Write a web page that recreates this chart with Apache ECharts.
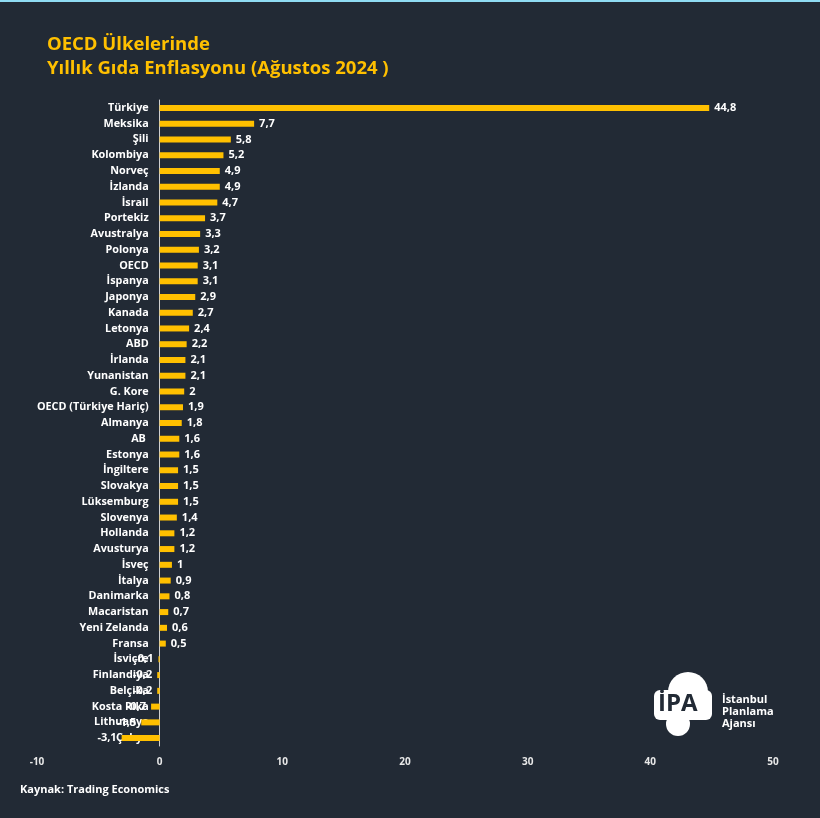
<!DOCTYPE html>
<html><head><meta charset="utf-8">
<script src="https://cdn.jsdelivr.net/npm/echarts@6/dist/echarts.min.js"></script>
<style>html,body{margin:0;padding:0;background:#222a35;}#c{width:820px;height:818px;}</style>
</head><body><div id="c"></div>
<script>
const categories = ["Türkiye","Meksika","Şili","Kolombiya","Norveç","İzlanda","İsrail","Portekiz","Avustralya","Polonya","OECD","İspanya","Japonya","Kanada","Letonya","ABD","İrlanda","Yunanistan","G. Kore","OECD (Türkiye Hariç)","Almanya","AB ","Estonya","İngiltere","Slovakya","Lüksemburg","Slovenya","Hollanda","Avusturya","İsveç","İtalya","Danimarka","Macaristan","Yeni Zelanda","Fransa","İsviçre","Finlandiya","Belçika","Kosta Rika","Lithuanya","Çekya"];
const values = [44.8,7.7,5.8,5.2,4.9,4.9,4.7,3.7,3.3,3.2,3.1,3.1,2.9,2.7,2.4,2.2,2.1,2.1,2,1.9,1.8,1.6,1.6,1.5,1.5,1.5,1.4,1.2,1.2,1,0.9,0.8,0.7,0.6,0.5,-0.1,-0.2,-0.2,-0.7,-1.5,-3.1];
const xTicks = {min:-10, max:50, interval:10};
const titleLines = ["OECD Ülkelerinde","Yıllık Gıda Enflasyonu (Ağustos 2024 )"];
const sourceText = "Kaynak: Trading Economics";

const FONT = "'Open Sans', 'Noto Sans', sans-serif";
const GRID_LEFT = 37, GRID_RIGHT = 47, W = 820;
const chart = echarts.init(document.getElementById('c'));
const data = values.map(v => ({
  value: v,
  label: {position: v < 0 ? 'left' : 'right'}
}));
const gridW = W - GRID_LEFT - GRID_RIGHT;
const zeroOffset = -gridW * (0 - xTicks.min) / (xTicks.max - xTicks.min);
chart.setOption({
  backgroundColor: '#222a35',
  animation: false,
  title: {
    text: titleLines.join('\n'),
    left: 42, top: 28,
    textStyle: {color: '#FFC000', fontSize: 18.5, fontWeight: 'bold', fontFamily: FONT, lineHeight: 24}
  },
  grid: {left: GRID_LEFT, right: GRID_RIGHT, top: 100, bottom: 72, containLabel: false, outerBoundsMode: 'none'},
  xAxis: {
    type: 'value', min: xTicks.min, max: xTicks.max, interval: xTicks.interval,
    splitLine: {show: false}, axisLine: {show: false}, axisTick: {show: false},
    axisLabel: {color: '#e8e8e8', fontSize: 10, fontWeight: 'bold', fontFamily: FONT, margin: 11}
  },
  yAxis: {
    type: 'category', data: categories, inverse: true, offset: zeroOffset,
    axisLine: {show: true, onZero: false, lineStyle: {color: '#d0d0d0', width: 1}},
    axisTick: {show: false},
    axisLabel: {color: '#ffffff', fontSize: 10.8, fontWeight: 'bold', fontFamily: FONT, margin: 11, interval: 0}
  },
  series: [{
    type: 'bar', data: data, barWidth: 6,
    itemStyle: {color: '#FFC000'},
    label: {show: true, color: '#ffffff', fontSize: 11, fontWeight: 'bold', fontFamily: FONT, distance: 5,
      formatter: p => String(p.value).replace('.', ',')}
  }],
  graphic: [
    {type: 'rect', left: 0, top: 0, shape: {width: 820, height: 2}, style: {fill: '#8fdcf3'}},
    {type: 'text', left: 20, top: 784, style: {text: sourceText, fill: '#ffffff', font: "bold 11px 'Open Sans', sans-serif"}},
    {type: 'group', left: 654, top: 672, children: [
      {type: 'circle', shape: {cx: 38, cy: 22, r: 20}, style: {fill: '#ffffff'}},
      {type: 'rect', shape: {x: 4, y: 20, width: 58, height: 30, r: 6}, style: {fill: '#ffffff'}},
      {type: 'circle', shape: {cx: 28, cy: 54, r: 12}, style: {fill: '#ffffff'}},
      {type: 'text', style: {x: 8, y: 22, text: 'İPA', fill: '#222a35', font: "bold 24px 'Open Sans', sans-serif"}}
    ]},
    {type: 'text', left: 722, top: 694, style: {text: 'İstanbul\nPlanlama\nAjansı', fill: '#ffffff', font: "bold 11px 'Open Sans', sans-serif", lineHeight: 12}}
  ]
});
</script></body></html>
